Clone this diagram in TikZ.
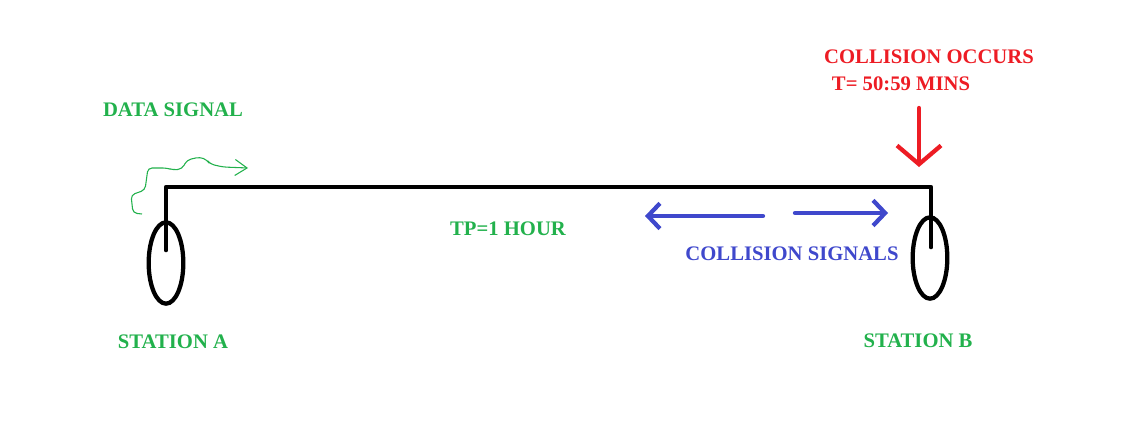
\documentclass[tikz,border=0pt]{standalone}
\usepackage{fontspec}
\setmainfont{Liberation Serif}
\usetikzlibrary{shapes.geometric, arrows.meta}
\definecolor{paintgreen}{RGB}{34,177,76}
\definecolor{paintred}{RGB}{237,28,36}
\definecolor{paintblue}{RGB}{63,72,204}

\begin{document}
\begin{tikzpicture}[
  x=0.75pt, y=-0.75pt,
  every node/.style={font=\bfseries\fontsize{15.5}{18}\selectfont, inner sep=0pt},
  lbl/.style={text=paintgreen},
  redlbl/.style={text=paintred},
  bluelbl/.style={text=paintblue},
  station/.style={ellipse, draw, line width=3.2pt, minimum width=26pt, minimum height=61pt},
  bus/.style={line width=3.5pt, line cap=round, line join=round},
  sig/.style={paintblue, line width=3.2pt, line cap=round, -{Straight Barb[length=9pt,width=19pt,line width=3.2pt]}},
  hit/.style={paintred, line width=3.2pt, line cap=round, -{Straight Barb[length=14pt,width=33pt,line width=3.2pt]}},
  wave/.style={paintgreen, line width=0.8pt, -{Straight Barb[length=9pt,width=12pt,line width=0.8pt]}}
]
\useasboundingbox (0,0) rectangle (1123,428);

% Nodes
\node[station] (staA) at (166,263) {};
\node[station] (staB) at (930,258) {};
\coordinate (tapA) at (166,187);
\coordinate (tapB) at (931,187);
\coordinate (dropA) at (166,250);
\coordinate (dropB) at (931,247);

\node[lbl] (lblA) at (173,342) {STATION A};
\node[lbl] (lblB) at (918,341) {STATION B};
\node[lbl] (data) at (173,110) {DATA SIGNAL};
\node[lbl] (tp) at (508,229) {TP=1 HOUR};
\node[redlbl] (coll) at (929,57) {COLLISION OCCURS};
\node[redlbl] (time) at (901,84) {T= 50:59 MINS};
\node[bluelbl] (csig) at (792,254) {COLLISION SIGNALS};

\coordinate (hitTop) at (919,108);
\coordinate (hitEnd) at (919,167);
\coordinate (leftFrom) at (763,216);
\coordinate (leftTo) at (645,216);
\coordinate (rightFrom) at (795,213);
\coordinate (rightTo) at (888,213);
\coordinate (waveStart) at (142,214);
\coordinate (waveEnd) at (248,168);

% Arrows
\draw[bus] (dropA) -- (tapA) -- (tapB) -- (dropB);
\draw[hit] (hitTop) -- (hitEnd);
\draw[sig] (leftFrom) -- (leftTo);
\draw[sig] (rightFrom) -- (rightTo);
\draw[wave, rounded corners=3pt] (waveStart) -- (133,213) -- (131,195) -- (145,190) -- (148,168)
  -- (167,168) -- (173,170) -- (182,169) -- (187,160) -- (200,157)
  -- (207,160) -- (210,164) -- (223,167) -- (waveEnd);

\end{tikzpicture}
\end{document}
